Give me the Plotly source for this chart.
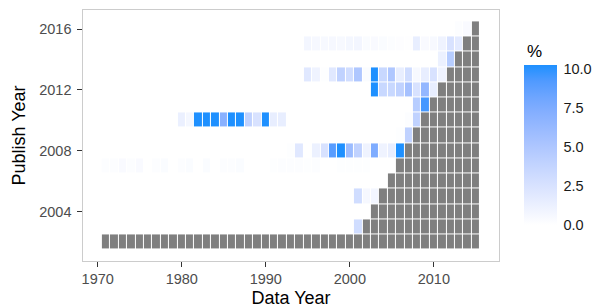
import numpy as np
import plotly.graph_objects as go

# ---------------- data ----------------
data_years = list(range(1971, 2016))
publish_years = list(range(2002, 2017))

# first data year drawn in grey for each publish year (2002..2016)
grey_from = [1971, 2002, 2003, 2004, 2005, 2006, 2007, 2008,
             2009, 2010, 2011, 2012, 2013, 2014, 2015]

# coloured rows: (first data year, values in %), None = empty cell
pub2016_start, pub2016 = 2013, [0.2, 0.4]
pub2015_start, pub2015 = 1995, [0.8, 0.6, 0.5, 0.6, 0.5, 0.7, 0.8, 0.3, 0.4, 0.3,
                                0.2, 0.15, 0.05, 1.5, 0.4, 0.5, 1.0, 2.5, 1.8]
pub2014_start, pub2014 = 2011, [1.2, 4.5]
pub2013_start, pub2013 = 1995, [2.0, 1.0, 0.1, 2.0, 4.0, 3.0, 5.0, 0.3, 10.3, 3.5,
                                5.0, 1.5, 3.0, 0.5, 1.5, 2.5, 1.0]
pub2012_start, pub2012 = 2003, [10.3, 3.5, 3.5, 4.0, 5.5, 2.5, 6.5, 1.5]
pub2011_start, pub2011 = 2008, [4.5, 9.5]
pub2010_start, pub2010 = 1980, [1.3, 0.7, 10.3, 10.3, 10.3, 7.0, 10.3, 10.3, 4.0, 2.5,
                                10.3, 1.5, 1.5, None, None, None, None, None, None, None,
                                None, None, None, None, None, None, None, 0.2, 4.0]
pub2009_start, pub2009 = 2006, [0.1, 4.0]
pub2008_start, pub2008 = 1993, [0.1, 2.0, None, 1.2, 2.5, 9.0, 10.3, 6.0, 4.0, 1.0,
                                7.5, 1.0, 1.5, 10.3]
pub2007_start, pub2007 = 1971, [0.2, 0.2, 0.4, 0.2, 0.4, None, 0.2, 0.3, None, 0.2,
                                0.3, None, 0.3, None, 0.2, 0.2, 0.3, None, None, None,
                                0.1, 0.2, 0.2, 0.2, 0.1, 0.2, None, None, 0.1, 0.1,
                                0.1, 0.1]
pub2005_start, pub2005 = 2001, [3.0, 0.6, 0.8]
pub2003_start, pub2003 = 2001, [3.0]

rows = {
    2016: (pub2016_start, pub2016), 2015: (pub2015_start, pub2015),
    2014: (pub2014_start, pub2014), 2013: (pub2013_start, pub2013),
    2012: (pub2012_start, pub2012), 2011: (pub2011_start, pub2011),
    2010: (pub2010_start, pub2010), 2009: (pub2009_start, pub2009),
    2008: (pub2008_start, pub2008), 2007: (pub2007_start, pub2007),
    2005: (pub2005_start, pub2005), 2003: (pub2003_start, pub2003),
}

nx, ny = len(data_years), len(publish_years)
z = np.full((ny, nx), np.nan)
zg = np.full((ny, nx), np.nan)
for i, py in enumerate(publish_years):
    for j, dy in enumerate(data_years):
        if dy >= grey_from[i]:
            zg[i, j] = 1.0
    if py in rows:
        s, vals = rows[py]
        for k, v in enumerate(vals):
            if v is not None:
                z[i, data_years.index(s + k)] = v

# ---------------- colour scale: white -> dodgerblue in Lab ----------------
def srgb_to_lab(rgb):
    c = np.array(rgb) / 255.0
    c = np.where(c <= 0.04045, c / 12.92, ((c + 0.055) / 1.055) ** 2.4)
    M = np.array([[0.4124, 0.3576, 0.1805], [0.2126, 0.7152, 0.0722], [0.0193, 0.1192, 0.9505]])
    xyz = M @ c
    wp = np.array([0.95047, 1.0, 1.08883])
    t = xyz / wp
    f = np.where(t > 0.008856, np.cbrt(t), 7.787 * t + 16 / 116)
    return np.array([116 * f[1] - 16, 500 * (f[0] - f[1]), 200 * (f[1] - f[2])])

def lab_to_srgb(lab):
    L_, a, b = lab
    fy = (L_ + 16) / 116
    fx = fy + a / 500
    fz = fy - b / 200
    f = np.array([fx, fy, fz])
    t = np.where(f ** 3 > 0.008856, f ** 3, (f - 16 / 116) / 7.787)
    xyz = t * np.array([0.95047, 1.0, 1.08883])
    Mi = np.array([[3.2406, -1.5372, -0.4986], [-0.9689, 1.8758, 0.0415], [0.0557, -0.2040, 1.0570]])
    c = Mi @ xyz
    c = np.where(c <= 0.0031308, 12.92 * c, 1.055 * np.clip(c, 0, None) ** (1 / 2.4) - 0.055)
    c = np.clip(np.round(c * 255), 0, 255).astype(int)
    return "rgb(%d,%d,%d)" % tuple(c)

lo = srgb_to_lab((255, 255, 255))
hi = srgb_to_lab((30, 144, 255))
cscale = [[t, lab_to_srgb(lo + (hi - lo) * t)] for t in np.linspace(0, 1, 11)]

# ---------------- figure ----------------
# page body has an 8 px margin, so the figure is drawn 8 px smaller
W, H = 593, 300
L, T = 74.5, 2
R = W - 491
B = H - 253.5
pw = W - L - R
ph = H - T - B

fig = go.Figure()
fig.add_trace(go.Heatmap(
    x=data_years, y=publish_years, z=zg,
    colorscale=[[0, "#7f7f7f"], [1, "#7f7f7f"]], showscale=False,
    xgap=1, ygap=1, hoverinfo="skip"))
fig.add_trace(go.Heatmap(
    x=data_years, y=publish_years, z=z,
    colorscale=cscale, zmin=0, zmax=10.3,
    xgap=1, ygap=1,
    colorbar=dict(
        thickness=33, len=160, lenmode="pixels",
        x=(516 - L) / pw, xanchor="left", xpad=0,
        y=(H - B - 136.9) / ph, yanchor="middle", ypad=0,
        outlinewidth=0,
        tickvals=[0, 2.5, 5, 7.5, 10], ticktext=["0.0", "2.5", "5.0", "7.5", "10.0"],
        ticks="outside", ticklen=4, tickcolor="rgba(0,0,0,0)", tickwidth=1,
        tickfont=dict(size=14.5, color="#1a1a1a", family="Liberation Sans"),
    )))

fig.add_annotation(text="%", x=(517 - L) / pw, y=(H - B - 43.5) / ph,
                   xref="paper", yref="paper", xanchor="left", yanchor="middle",
                   showarrow=False, font=dict(size=17, color="black", family="Liberation Sans"))

axis_common = dict(showgrid=False, zeroline=False, showline=True, mirror=True,
                   linecolor="#cccccc", linewidth=1.2, ticks="outside", ticklen=4.5,
                   tickcolor="#333333", tickwidth=1,
                   tickfont=dict(size=14.5, color="#4d4d4d", family="Liberation Sans"))

fig.update_xaxes(range=[1968.25, 2017.75], tickvals=[1970, 1980, 1990, 2000, 2010],
                 title=dict(text="Data Year", standoff=7,
                            font=dict(size=18, color="black", family="Liberation Sans")),
                 **axis_common)
fig.update_yaxes(range=[2000.75, 2017.25], tickvals=[2004, 2008, 2012, 2016],
                 ticklabelstandoff=3,
                 title=dict(text="Publish Year", standoff=8,
                            font=dict(size=18, color="black", family="Liberation Sans")),
                 **axis_common)

fig.update_layout(width=W, height=H, margin=dict(l=L, r=R, t=T, b=B, autoexpand=False),
                  plot_bgcolor="white", paper_bgcolor="white",
                  font=dict(family="Liberation Sans"))

fig.write_html("out.html")
